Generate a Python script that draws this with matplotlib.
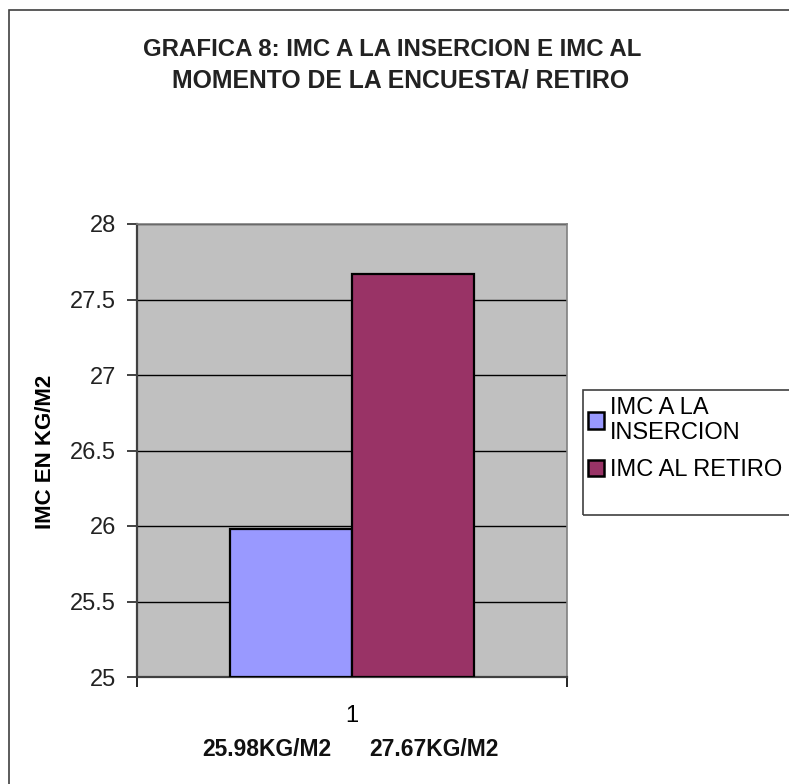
import matplotlib.pyplot as plt
from matplotlib.patches import Rectangle, Patch

plt.rcParams['font.family'] = ['Liberation Sans', 'DejaVu Sans']

# datos
categorias = ['1']
series = ['IMC A LA\nINSERCION', 'IMC AL RETIRO']
valores = [25.98, 27.67]
colores = ['#9999FF', '#993366']
y_ticks = [25, 25.5, 26, 26.5, 27, 27.5, 28]

W, H = 789, 784
fig = plt.figure(figsize=(W / 100, H / 100), dpi=100)

def fx(px):
    return px / W

def fy(py):
    return 1 - py / H

# marco exterior del grafico
fig.patches.append(Rectangle((fx(9), fy(900)), fx(900), fy(10) - fy(900),
                             transform=fig.transFigure, fill=False,
                             edgecolor='#404040', linewidth=1.2))

ax = fig.add_axes([fx(137), fy(677), fx(567) - fx(137), fy(224) - fy(677)])
ax.set_facecolor('#C0C0C0')

ancho = 0.284
x0 = 1
for i, (v, c) in enumerate(zip(valores, colores)):
    pos = x0 + (i - 0.5) * ancho
    ax.bar(pos, v - 25, bottom=25, width=ancho, color=c,
           edgecolor='black', linewidth=1.6, zorder=3)

ax.set_xlim(0.5, 1.5)
ax.set_ylim(25, 28)
ax.set_yticks(y_ticks)
ax.set_yticklabels([f'{t:g}' for t in y_ticks])
ax.yaxis.grid(True, color='black', linewidth=1.0, zorder=1)
ax.set_axisbelow(True)

ax.set_xticks([1])
ax.set_xticklabels(categorias)
ax.set_xticks([0.5, 1.5], minor=True)
ax.tick_params(axis='x', which='major', length=0, pad=20, labelsize=17)
ax.tick_params(axis='x', which='minor', length=7, width=1.2, direction='out')
ax.tick_params(axis='y', length=7, width=1.2, direction='out', pad=8,
               labelsize=17, colors='#222222')

for s in ['left', 'bottom']:
    ax.spines[s].set_color('#404040')
    ax.spines[s].set_linewidth(1.6)
for s in ['top', 'right']:
    ax.spines[s].set_color('#808080')
    ax.spines[s].set_linewidth(1.2)

# titulo del eje y
fig.text(fx(46), fy(452), 'IMC EN KG/M2', rotation=90, ha='center',
         va='center', fontsize=16, fontweight='bold')

# titulo
fig.text(fx(392), fy(50), 'GRAFICA 8: IMC A LA INSERCION E IMC AL',
         ha='center', va='center', fontsize=17.3, fontweight='bold',
         color='#222222')
fig.text(fx(401), fy(80), 'MOMENTO DE LA ENCUESTA/ RETIRO',
         ha='center', va='center', fontsize=17.8, fontweight='bold',
         color='#222222')

# etiquetas de valores bajo el eje
for v, cx in zip(valores, [267, 434]):
    fig.text(fx(cx), fy(750), f'{v:.2f}KG/M2', ha='center', va='center',
             fontsize=16.5, fontweight='bold', color='#111111')

# leyenda
fig.patches.append(Rectangle((fx(583), fy(515)), fx(300), fy(390) - fy(515),
                             transform=fig.transFigure, fill=False,
                             edgecolor='#404040', linewidth=1.2))
handles = [Patch(facecolor=c, edgecolor='black', linewidth=1.8) for c in colores]
fig.legend(handles, series, loc='upper left',
           bbox_to_anchor=(fx(583), fy(392)), frameon=False, fontsize=17,
           handlelength=0.7, handleheight=0.7, handletextpad=0.25,
           labelspacing=0.65, borderpad=0.2, borderaxespad=0)

fig.savefig('out.png', dpi=100)
